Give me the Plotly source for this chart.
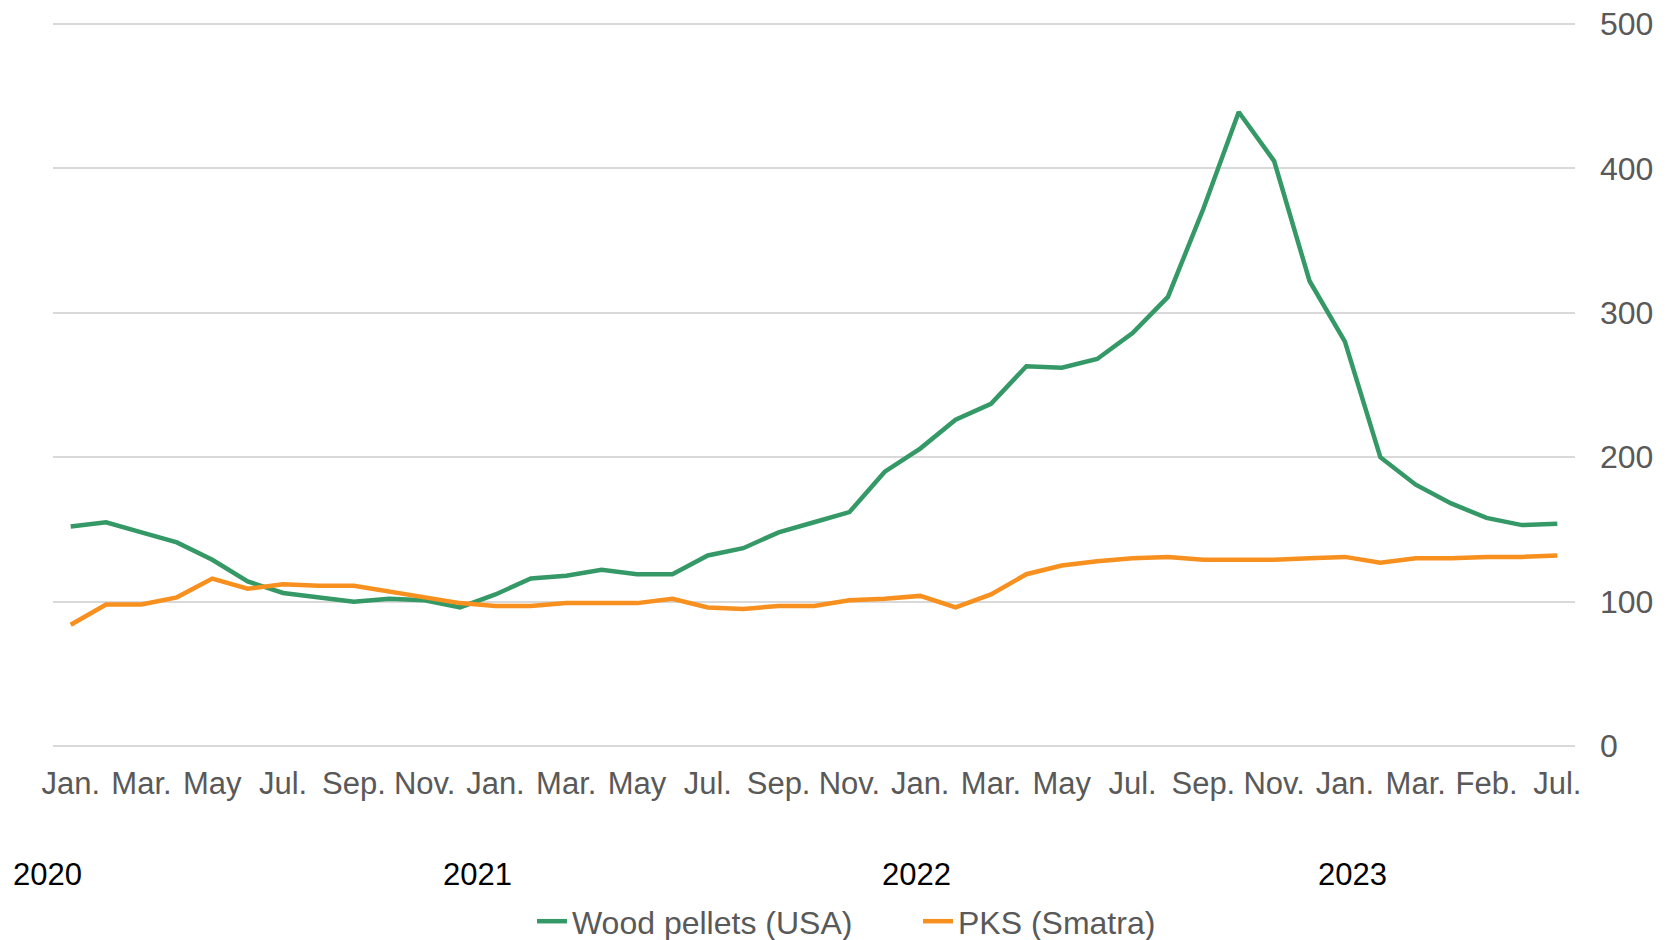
import plotly.graph_objects as go

# Monthly index, Jan 2020 .. Jul 2023 (43 months)
tick_labels = ["Jan.", "Mar.", "May", "Jul.", "Sep.", "Nov.",
               "Jan.", "Mar.", "May", "Jul.", "Sep.", "Nov.",
               "Jan.", "Mar.", "May", "Jul.", "Sep.", "Nov.",
               "Jan.", "Mar.", "Feb.", "Jul."]
years = ["2020", "2021", "2022", "2023"]
year_pos = [-0.66, 11.5, 23.9, 36.2]

wood_pellets = [152, 155, 148, 141, 129, 114, 106, 103, 100, 102, 101, 96,
                105, 116, 118, 122, 119, 119, 132, 137, 148, 155, 162, 190,
                206, 226, 237, 263, 262, 268, 286, 311, 372, 439, 405, 322,
                280, 200, 181, 168, 158, 153, 154]
pks = [84, 98, 98, 103, 116, 109, 112, 111, 111, 107, 103, 99,
       97, 97, 99, 99, 99, 102, 96, 95, 97, 97, 101, 102,
       104, 96, 105, 119, 125, 128, 130, 131, 129, 129, 129, 130,
       131, 127, 130, 130, 131, 131, 132]

x = list(range(len(wood_pellets)))
tickvals = x[::2]
X_MIN, X_MAX = -0.5, len(x) - 0.5

GREEN = "#349966"
ORANGE = "#F7901E"
GRAY = "#595959"

fig = go.Figure()
fig.add_trace(go.Scatter(x=x, y=wood_pellets, mode="lines", name="Wood pellets (USA)",
                         line=dict(color=GREEN, width=4.5)))
fig.add_trace(go.Scatter(x=x, y=pks, mode="lines", name="PKS (Smatra)",
                         line=dict(color=ORANGE, width=4.5)))

for yr, pos in zip(years, year_pos):
    fig.add_annotation(x=(pos - X_MIN) / (X_MAX - X_MIN), y=-0.1722, xref="paper", yref="paper",
                       text=yr, showarrow=False, xanchor="center", yanchor="middle",
                       font=dict(family="Liberation Sans, Arial", size=31, color="#000000"))

fig.update_layout(
    width=1675, height=940,
    margin=dict(l=53, r=100, t=21.4, b=191.4, autoexpand=False),
    paper_bgcolor="white", plot_bgcolor="white",
    font=dict(family="Liberation Sans, Arial", color=GRAY),
    showlegend=True,
    legend=dict(orientation="h", x=0.3147, xanchor="left", y=-0.2368, yanchor="middle",
                font=dict(size=32, color=GRAY), entrywidth=341, entrywidthmode="pixels",
                tracegroupgap=0, bgcolor="rgba(0,0,0,0)"),
    xaxis=dict(range=[X_MIN, X_MAX], tickmode="array", tickvals=tickvals, ticktext=tick_labels,
               showgrid=False, zeroline=False, showline=False, ticks="",
               tickfont=dict(size=31, color=GRAY), ticklabelstandoff=13, tickangle=0),
    yaxis=dict(range=[-2, 502], side="right", tickvals=[0, 100, 200, 300, 400, 500],
               showgrid=True, gridcolor="#D9D9D9", gridwidth=1.5, zeroline=False,
               showline=False, ticks="", tickfont=dict(size=32, color=GRAY),
               ticklabelstandoff=24),
)

fig.write_html("out.html", config={"displayModeBar": False},
               post_script="document.body.style.margin='0px'; document.body.style.overflow='hidden';")
